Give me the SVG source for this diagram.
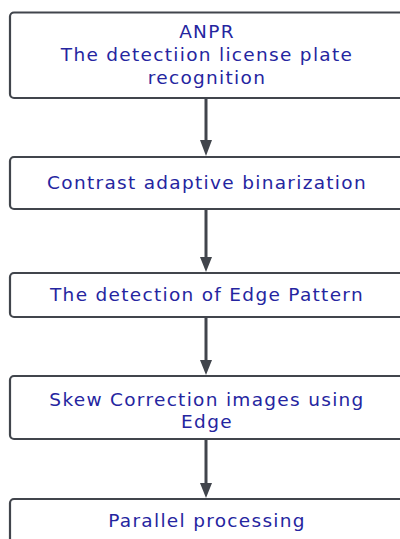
<svg xmlns="http://www.w3.org/2000/svg" width="400" height="539" viewBox="0 0 400 539">
<style>
.box{fill:#ffffff;stroke:#41454c;stroke-width:2.2}
.lbl{font-family:"DejaVu Sans",Verdana,sans-serif;font-size:18.5px;letter-spacing:1.3px;fill:#2525a0;text-anchor:middle}
.edge{stroke:#41454c;stroke-width:3;fill:none}
.head{fill:#41454c}
</style>
<rect width="400" height="539" fill="#ffffff"/>
<g id="connectors">
<line class="edge" x1="206" y1="99" x2="206" y2="140"/>
<path class="head" d="M200,140 L212,140 L206,156 Z"/>
<line class="edge" x1="206" y1="210" x2="206" y2="257"/>
<path class="head" d="M200,257 L212,257 L206,272 Z"/>
<line class="edge" x1="206" y1="318" x2="206" y2="360"/>
<path class="head" d="M200,360 L212,360 L206,375 Z"/>
<line class="edge" x1="206" y1="440" x2="206" y2="483"/>
<path class="head" d="M200,483 L212,483 L206,498 Z"/>
</g>
<g id="n1">
<rect class="box" x="10" y="12.5" width="394" height="85.5" rx="4"/>
<text class="lbl" x="207" y="37.5">ANPR</text>
<text class="lbl" x="207" y="60.5">The detectiion license plate</text>
<text class="lbl" x="207" y="83.5">recognition</text>
</g>
<g id="n2">
<rect class="box" x="10" y="157" width="394" height="52" rx="4"/>
<text class="lbl" x="207" y="188.5">Contrast adaptive binarization</text>
</g>
<g id="n3">
<rect class="box" x="10" y="273" width="394" height="44" rx="4"/>
<text class="lbl" x="207" y="301">The detection of Edge Pattern</text>
</g>
<g id="n4">
<rect class="box" x="10" y="376" width="394" height="63" rx="4"/>
<text class="lbl" x="207" y="405.5">Skew Correction images using</text>
<text class="lbl" x="207" y="427.5">Edge</text>
</g>
<g id="n5">
<rect class="box" x="10" y="499" width="394" height="60" rx="4"/>
<text class="lbl" x="207" y="527">Parallel processing</text>
</g>
</svg>
